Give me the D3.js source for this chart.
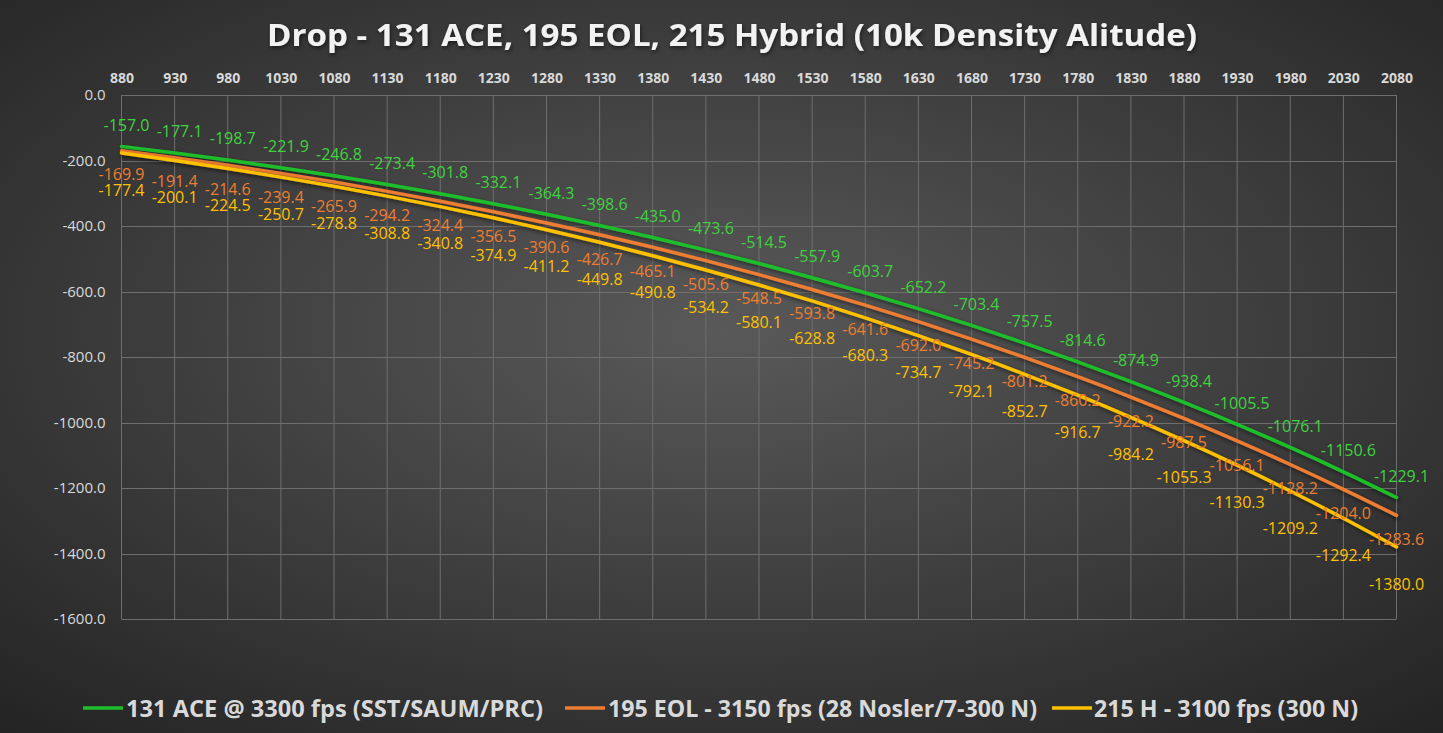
<!DOCTYPE html>
<html>
<head>
<meta charset="utf-8">
<script src="https://cdnjs.cloudflare.com/ajax/libs/d3/7.8.5/d3.min.js"></script>
<style>
  html, body { margin: 0; padding: 0; background: #2a2a2a; }
  svg { display: block; }
</style>
</head>
<body>
<div id="my_dataviz"></div>
<script>
  // distances (yards)
  var distances = [880, 930, 980, 1030, 1080, 1130, 1180, 1230, 1280, 1330, 1380, 1430,
                   1480, 1530, 1580, 1630, 1680, 1730, 1780, 1830, 1880, 1930, 1980, 2030, 2080];

  // drop for each load
  var ace131 = [-157.0, -177.1, -198.7, -221.9, -246.8, -273.4, -301.8, -332.1, -364.3, -398.6,
                -435.0, -473.6, -514.5, -557.9, -603.7, -652.2, -703.4, -757.5, -814.6, -874.9,
                -938.4, -1005.5, -1076.1, -1150.6, -1229.1];
  var eol195 = [-169.9, -191.4, -214.6, -239.4, -265.9, -294.2, -324.4, -356.5, -390.6, -426.7,
                -465.1, -505.6, -548.5, -593.8, -641.6, -692.0, -745.2, -801.2, -860.2, -922.2,
                -987.5, -1056.1, -1128.2, -1204.0, -1283.6];
  var hyb215 = [-177.4, -200.1, -224.5, -250.7, -278.8, -308.8, -340.8, -374.9, -411.2, -449.8,
                -490.8, -534.2, -580.1, -628.8, -680.3, -734.7, -792.1, -852.7, -916.7, -984.2,
                -1055.3, -1130.3, -1209.2, -1292.4, -1380.0];

  var seriesNames = ["131 ACE @ 3300 fps (SST/SAUM/PRC)",
                     "195 EOL - 3150 fps (28 Nosler/7-300 N)",
                     "215 H - 3100 fps (300 N)"];
  var yTicks = [0, -200, -400, -600, -800, -1000, -1200, -1400, -1600];

  var series = [
    {name: seriesNames[0], values: ace131, color: "#1fbe2c", label: "#3fd23f", dx: 5, dy: -21.5, lx: 83, tx: 126, tw: 417},
    {name: seriesNames[1], values: eol195, color: "#ed7d31", label: "#ed7d31", dx: 0, dy: 24, lx: 565, tx: 608, tw: 429},
    {name: seriesNames[2], values: hyb215, color: "#ffc000", label: "#ffc000", dx: 0, dy: 37, lx: 1052, tx: 1094, tw: 264}
  ];

  var W = 1443, H = 733;
  var margin = {top: 95, right: 47, bottom: 114, left: 121.5},
      width = 1396.5 - margin.left,
      height = 619 - margin.top;

  var svgRoot = d3.select("#my_dataviz")
    .append("svg")
      .attr("width", W)
      .attr("height", H);

  var defs = svgRoot.append("defs");
  var grad = defs.append("radialGradient")
    .attr("id", "bg")
    .attr("cx", "50%").attr("cy", "45%").attr("r", "75%");
  grad.append("stop").attr("offset", "0%").attr("stop-color", "#595959");
  grad.append("stop").attr("offset", "100%").attr("stop-color", "#232323");

  var shadow = defs.append("filter").attr("id", "shadow")
    .attr("x", "-5%").attr("y", "-20%").attr("width", "110%").attr("height", "140%");
  shadow.append("feDropShadow")
    .attr("dx", 1).attr("dy", 2).attr("stdDeviation", 2)
    .attr("flood-color", "#000").attr("flood-opacity", 0.55);

  svgRoot.append("rect")
    .attr("width", W).attr("height", H)
    .attr("fill", "url(#bg)");

  // title
  svgRoot.append("text")
    .attr("x", 732).attr("y", 46)
    .attr("text-anchor", "middle")
    .attr("font-family", "Open Sans")
    .attr("font-weight", "bold")
    .attr("font-size", 31)
    .attr("fill", "#f2f2f2")
    .attr("textLength", 930)
    .attr("lengthAdjust", "spacingAndGlyphs")
    .attr("filter", "url(#shadow)")
    .text("Drop - 131 ACE, 195 EOL, 215 Hybrid (10k Density Alitude)");

  var svg = svgRoot.append("g")
    .attr("transform", "translate(" + margin.left + "," + margin.top + ")");

  var x = d3.scalePoint()
    .domain(distances)
    .range([0, width]);

  var y = d3.scaleLinear()
    .domain([-1600, 0])
    .range([height, 0]);

  // gridlines
  svg.append("g")
    .selectAll("line.h")
    .data(yTicks)
    .enter().append("line")
      .attr("x1", 0).attr("x2", width)
      .attr("y1", function(d) { return Math.round(y(d)) + 0.5; })
      .attr("y2", function(d) { return Math.round(y(d)) + 0.5; })
      .attr("stroke", "#6e6e6e").attr("stroke-width", 1);

  svg.append("g")
    .selectAll("line.v")
    .data(distances)
    .enter().append("line")
      .attr("x1", function(d) { return x(d); })
      .attr("x2", function(d) { return x(d); })
      .attr("y1", 0).attr("y2", height)
      .attr("stroke", "#6e6e6e").attr("stroke-width", 1);

  // x axis along the top
  var xAxis = svg.append("g")
    .call(d3.axisTop(x).tickSize(0).tickPadding(12));
  xAxis.select(".domain").remove();
  xAxis.selectAll("text")
    .attr("font-family", "Open Sans")
    .attr("font-weight", "bold")
    .attr("font-size", 14)
    .attr("fill", "#d9d9d9");

  // y axis
  var yAxis = svg.append("g")
    .call(d3.axisLeft(y).tickValues(yTicks).tickSize(0).tickPadding(16)
      .tickFormat(function(d) { return d.toFixed(1); }));
  yAxis.select(".domain").remove();
  yAxis.selectAll("text")
    .attr("font-family", "Open Sans")
    .attr("font-size", 15)
    .attr("fill", "#d9d9d9");

  var line = d3.line()
    .x(function(d, i) { return x(distances[i]); })
    .y(function(d) { return y(d); })
    .curve(d3.curveMonotoneX);

  series.forEach(function(s) {
    svg.append("path")
      .datum(s.values)
      .attr("fill", "none")
      .attr("stroke", s.color)
      .attr("stroke-width", 3.5)
      .attr("stroke-linecap", "round")
      .attr("filter", "url(#shadow)")
      .attr("d", line);
  });

  // data labels
  series.forEach(function(s) {
    svg.append("g")
      .selectAll("text")
      .data(s.values)
      .enter().append("text")
        .attr("x", function(d, i) { return x(distances[i]) + s.dx; })
        .attr("y", function(d) { return y(d) + s.dy; })
        .attr("dy", "0.36em")
        .attr("text-anchor", "middle")
        .attr("font-family", "Open Sans")
        .attr("font-size", 16)
        .attr("fill", s.label)
        .text(function(d) { return d.toFixed(1); });
  });

  // legend
  var legend = svgRoot.append("g");
  series.forEach(function(s) {
    legend.append("line")
      .attr("x1", s.lx).attr("x2", s.lx + 40)
      .attr("y1", 708).attr("y2", 708)
      .attr("stroke", s.color).attr("stroke-width", 3.5);
    legend.append("text")
      .attr("x", s.tx).attr("y", 717)
      .attr("font-family", "Open Sans")
      .attr("font-weight", "bold")
      .attr("font-size", 24)
      .attr("fill", "#d9d9d9")
      .attr("textLength", s.tw)
      .attr("lengthAdjust", "spacingAndGlyphs")
      .text(s.name);
  });
</script>
</body>
</html>
